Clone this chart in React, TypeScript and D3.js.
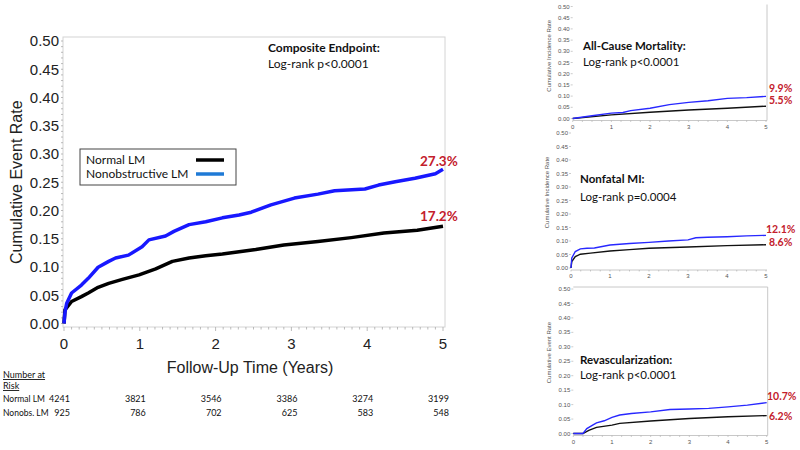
import React from 'react';
import * as d3 from 'd3';

// ---------- DATA ----------
const xTickYears = [0, 1, 2, 3, 4, 5];
const mainYTicks = [0, 0.05, 0.1, 0.15, 0.2, 0.25, 0.3, 0.35, 0.4, 0.45, 0.5];
const panelYTicks = [0, 0.05, 0.1, 0.15, 0.2, 0.25, 0.3, 0.35, 0.4, 0.45, 0.5];

// Composite endpoint
const compNormalT = [0, 0.013, 0.1, 0.23, 0.32, 0.45, 0.59, 0.77, 0.99, 1.21, 1.43, 1.65, 1.87, 2.09, 2.31, 2.53, 2.9, 3.35, 3.79, 4.22, 4.66, 5.0];
const compNormalV = [0, 0.024, 0.039, 0.0475, 0.054, 0.064, 0.071, 0.078, 0.086, 0.0966, 0.11, 0.116, 0.12, 0.123, 0.127, 0.131, 0.139, 0.145, 0.152, 0.16, 0.165, 0.172];
const compNonobsT = [0, 0.013, 0.036, 0.1, 0.23, 0.32, 0.45, 0.59, 0.68, 0.85, 1.03, 1.12, 1.34, 1.45, 1.65, 1.87, 2.09, 2.31, 2.47, 2.73, 3.04, 3.35, 3.57, 3.97, 4.15, 4.37, 4.63, 4.9, 5.0];
const compNonobsV = [0, 0.02, 0.036, 0.054, 0.068, 0.08, 0.0996, 0.11, 0.116, 0.121, 0.136, 0.148, 0.155, 0.163, 0.175, 0.18, 0.187, 0.192, 0.197, 0.21, 0.222, 0.229, 0.235, 0.238, 0.245, 0.251, 0.257, 0.265, 0.273];

// All-cause mortality
const mortNormalT = [0, 1, 2, 3, 4, 5];
const mortNormalV = [0, 0.016, 0.028, 0.038, 0.046, 0.055];
const mortNonobsT = [0, 0.5, 1, 1.3, 1.5, 2, 2.5, 3, 3.5, 4, 4.5, 5];
const mortNonobsV = [0, 0.012, 0.024, 0.027, 0.035, 0.046, 0.062, 0.072, 0.079, 0.09, 0.093, 0.099];

// Nonfatal MI
const miNormalT = [0, 0.02, 0.11, 0.24, 0.5, 1, 1.5, 2, 3, 4, 5];
const miNormalV = [0, 0.024, 0.042, 0.051, 0.055, 0.063, 0.068, 0.073, 0.078, 0.083, 0.086];
const miNonobsT = [0, 0.02, 0.11, 0.24, 0.41, 0.6, 1, 1.5, 2, 2.5, 3, 3.2, 3.5, 4, 4.5, 5];
const miNonobsV = [0, 0.037, 0.061, 0.071, 0.073, 0.074, 0.085, 0.091, 0.095, 0.1, 0.104, 0.112, 0.114, 0.116, 0.119, 0.121];

// Revascularization
const revNormalT = [0, 0.25, 0.4, 0.6, 1, 1.2, 2, 3, 4, 5];
const revNormalV = [0, 0, 0.011, 0.021, 0.029, 0.035, 0.043, 0.052, 0.058, 0.062];
const revNonobsT = [0, 0.25, 0.35, 0.5, 0.6, 0.8, 1, 1.2, 1.5, 2, 2.5, 3, 3.5, 4, 4.5, 5];
const revNonobsV = [0, 0, 0.017, 0.029, 0.037, 0.044, 0.056, 0.064, 0.069, 0.075, 0.083, 0.085, 0.087, 0.092, 0.098, 0.107];

// Number at risk
const riskNormal = [4241, 3821, 3546, 3386, 3274, 3199];
const riskNonobs = [925, 786, 702, 625, 583, 548];

const seriesNames = ['Normal LM', 'Nonobstructive LM'];
const riskRowNames = ['Normal LM', 'Nonobs. LM'];

// ---------- STYLE ----------
const ARIAL = '"Liberation Sans", Arial, sans-serif';
const CAL = 'Lato, "Open Sans", sans-serif';
const RED = '#c3202c';
const BLUE = '#1818ff';
const BLACK = '#000';

const zip = (t: number[], v: number[]) => t.map((d, i) => [d, v[i]] as [number, number]);

function MainChart() {
  const x = d3.scaleLinear().domain([0, 5]).range([64, 443]);
  const y = d3.scaleLinear().domain([0, 0.5]).range([323.5, 41]);
  const line = d3.line<[number, number]>().x(d => x(d[0])).y(d => y(d[1])).curve(d3.curveLinear);
  const minorY = d3.range(0, 0.5001, 0.01);
  const minorX = d3.range(0, 5.001, 0.1);
  const axisY = 327;
  return (
    <g>
      <rect x={63} y={37} width={382} height={axisY - 37} fill="none" stroke="#d4d4d4" strokeWidth={1} />
      {minorY.map((v, i) => (
        <line key={'my' + i} x1={61} x2={63} y1={y(v)} y2={y(v)} stroke="#aaa" strokeWidth={0.8} />
      ))}
      {minorX.map((v, i) => (
        <line key={'mx' + i} x1={x(v)} x2={x(v)} y1={axisY} y2={axisY + (Math.abs(v - Math.round(v)) < 1e-6 ? 4 : 2.5)} stroke="#aaa" strokeWidth={0.8} />
      ))}
      {mainYTicks.map(v => (
        <text key={'yt' + v} x={59} y={y(v)} dy="0.35em" textAnchor="end" fontFamily={ARIAL} fontSize={15} fill="#222">
          {v.toFixed(2)}
        </text>
      ))}
      {xTickYears.map(v => (
        <text key={'xt' + v} x={x(v)} y={349} textAnchor="middle" fontFamily={ARIAL} fontSize={15} fill="#222">
          {v}
        </text>
      ))}
      <text x={250} y={373} textAnchor="middle" fontFamily={ARIAL} fontSize={16} fill="#222">Follow-Up Time (Years)</text>
      <text transform={`translate(16,${y(0.25)}) rotate(-90)`} textAnchor="middle" dy="0.35em" fontFamily={ARIAL} fontSize={16} fill="#222">
        Cumulative Event Rate
      </text>
      <path d={line(zip(compNormalT, compNormalV)) || ''} fill="none" stroke={BLACK} strokeWidth={3.5} strokeLinejoin="round" />
      <path d={line(zip(compNonobsT, compNonobsV)) || ''} fill="none" stroke={BLUE} strokeWidth={3.5} strokeLinejoin="round" />
      <text x={268} y={52} fontFamily={CAL} fontWeight="bold" fontSize={12} fill="#111">Composite Endpoint:</text>
      <text x={268} y={68} fontFamily={CAL} fontSize={12} fill="#111">Log-rank p&lt;0.0001</text>
      <text x={420} y={166} fontFamily={CAL} fontWeight="bold" fontSize={13.5} fill={RED}>27.3%</text>
      <text x={420} y={221} fontFamily={CAL} fontWeight="bold" fontSize={13.5} fill={RED}>17.2%</text>
      <rect x={80} y={149} width={156} height={36} fill="#fff" stroke="#444" strokeWidth={1} />
      <text x={86} y={164} fontFamily={CAL} fontSize={12} fill="#111">{seriesNames[0]}</text>
      <text x={86} y={178} fontFamily={CAL} fontSize={12} fill="#111">{seriesNames[1]}</text>
      <line x1={196} x2={224} y1={160} y2={160} stroke={BLACK} strokeWidth={3.5} />
      <line x1={196} x2={224} y1={174} y2={174} stroke="#1f7ad6" strokeWidth={3.5} />
      <text x={3} y={378} fontFamily={CAL} fontSize={9} fill="#111" textDecoration="underline">Number at</text>
      <text x={3} y={389} fontFamily={CAL} fontSize={9} fill="#111" textDecoration="underline">Risk</text>
      <text x={3} y={402} fontFamily={CAL} fontSize={8.5} fill="#111">{riskRowNames[0]}</text>
      <text x={3} y={416} fontFamily={CAL} fontSize={8.5} fill="#111">{riskRowNames[1]}</text>
      {riskNormal.map((n, i) => (
        <text key={'rn' + i} x={x(xTickYears[i]) + 6} y={402} textAnchor="end" fontFamily={CAL} fontSize={9} fill="#111">{n}</text>
      ))}
      {riskNonobs.map((n, i) => (
        <text key={'ro' + i} x={x(xTickYears[i]) + 6} y={416} textAnchor="end" fontFamily={CAL} fontSize={9} fill="#111">{n}</text>
      ))}
    </g>
  );
}

type PanelProps = {
  x0: number; x1: number; yb: number; yt: number;
  yLabel: string; title: string; sub: string;
  tx: number; ty1: number; ty2: number;
  normal: [number, number][]; nonobs: [number, number][];
  pctHi: string; pctLo: string; pHiX: number; pHiY: number; pLoX: number; pLoY: number;
  rightBorder: boolean; topBorder: boolean;
};

function Panel(p: PanelProps) {
  const x = d3.scaleLinear().domain([0, 5]).range([p.x0, p.x1]);
  const y = d3.scaleLinear().domain([0, 0.5]).range([p.yb, p.yt]);
  const line = d3.line<[number, number]>().x(d => x(d[0])).y(d => y(d[1]));
  const axisY = p.yb + 2;
  const minorX = d3.range(0, 5.001, 0.25);
  return (
    <g>
      {p.rightBorder && <line x1={p.x1 + 1} x2={p.x1 + 1} y1={p.yt - 2} y2={axisY} stroke="#c8c8c8" strokeWidth={1} />}
      {p.topBorder && <line x1={p.x0} x2={p.x1 + 1} y1={p.yt - 2} y2={p.yt - 2} stroke="#c8c8c8" strokeWidth={1} />}
      <line x1={p.x0} x2={p.x1 + 1} y1={axisY} y2={axisY} stroke="#c8c8c8" strokeWidth={1} />
      {minorX.map((v, i) => (
        <line key={'pm' + i} x1={x(v)} x2={x(v)} y1={axisY} y2={axisY + 1.5} stroke="#aaa" strokeWidth={0.6} />
      ))}
      {panelYTicks.map(v => (
        <g key={'py' + v}>
          <line x1={p.x0 - 2} x2={p.x0} y1={y(v)} y2={y(v)} stroke="#aaa" strokeWidth={0.6} />
          <text x={p.x0 - 3} y={y(v)} dy="0.35em" textAnchor="end" fontFamily={ARIAL} fontSize={6} fill="#555">{v.toFixed(2)}</text>
        </g>
      ))}
      {xTickYears.map(v => (
        <text key={'px' + v} x={x(v)} y={axisY + 8} textAnchor="middle" fontFamily={ARIAL} fontSize={6} fill="#555">{v}</text>
      ))}
      <text transform={`translate(${p.x0 - 24},${y(0.28)}) rotate(-90)`} textAnchor="middle" dy="0.35em" fontFamily={ARIAL} fontSize={6} fill="#555">{p.yLabel}</text>
      <path d={line(p.normal) || ''} fill="none" stroke="#111" strokeWidth={1.4} />
      <path d={line(p.nonobs) || ''} fill="none" stroke="#2828ff" strokeWidth={1.4} />
      <text x={p.tx} y={p.ty1} fontFamily={CAL} fontWeight="bold" fontSize={11.5} fill="#111">{p.title}</text>
      <text x={p.tx} y={p.ty2} fontFamily={CAL} fontSize={11.5} fill="#111">{p.sub}</text>
      <text x={p.pHiX} y={p.pHiY} fontFamily={CAL} fontWeight="bold" fontSize={10.5} fill={RED}>{p.pctHi}</text>
      <text x={p.pLoX} y={p.pLoY} fontFamily={CAL} fontWeight="bold" fontSize={10.5} fill={RED}>{p.pctLo}</text>
    </g>
  );
}

export default function App() {
  return (
    <svg width={800} height={450} style={{ position: 'absolute', left: 0, top: 0, background: '#fff' }}>
      <rect x={0} y={0} width={800} height={450} fill="#fff" />
      <MainChart />
      <Panel x0={572.7} x1={766} yb={118.5} yt={6.5} yLabel="Cumulative Incidence Rate"
        title="All-Cause Mortality:" sub="Log-rank p<0.0001" tx={583} ty1={50} ty2={66}
        normal={zip(mortNormalT, mortNormalV)} nonobs={zip(mortNonobsT, mortNonobsV)}
        pctHi="9.9%" pctLo="5.5%" pHiX={769} pHiY={91.5} pLoX={769} pLoY={104}
        rightBorder={true} topBorder={false} />
      <Panel x0={571} x1={766} yb={268} yt={133} yLabel="Cumulative Incidence Rate"
        title="Nonfatal MI:" sub="Log-rank p=0.0004" tx={580} ty1={183} ty2={201}
        normal={zip(miNormalT, miNormalV)} nonobs={zip(miNonobsT, miNonobsV)}
        pctHi="12.1%" pctLo="8.6%" pHiX={766} pHiY={233} pLoX={769} pLoY={245.5}
        rightBorder={false} topBorder={false} />
      <Panel x0={573.3} x1={766.7} yb={433.5} yt={289} yLabel="Cumulative Event Rate"
        title="Revascularization:" sub="Log-rank p<0.0001" tx={580} ty1={364} ty2={379}
        normal={zip(revNormalT, revNormalV)} nonobs={zip(revNonobsT, revNonobsV)}
        pctHi="10.7%" pctLo="6.2%" pHiX={767} pHiY={400} pLoX={769} pLoY={420}
        rightBorder={true} topBorder={true} />
    </svg>
  );
}
